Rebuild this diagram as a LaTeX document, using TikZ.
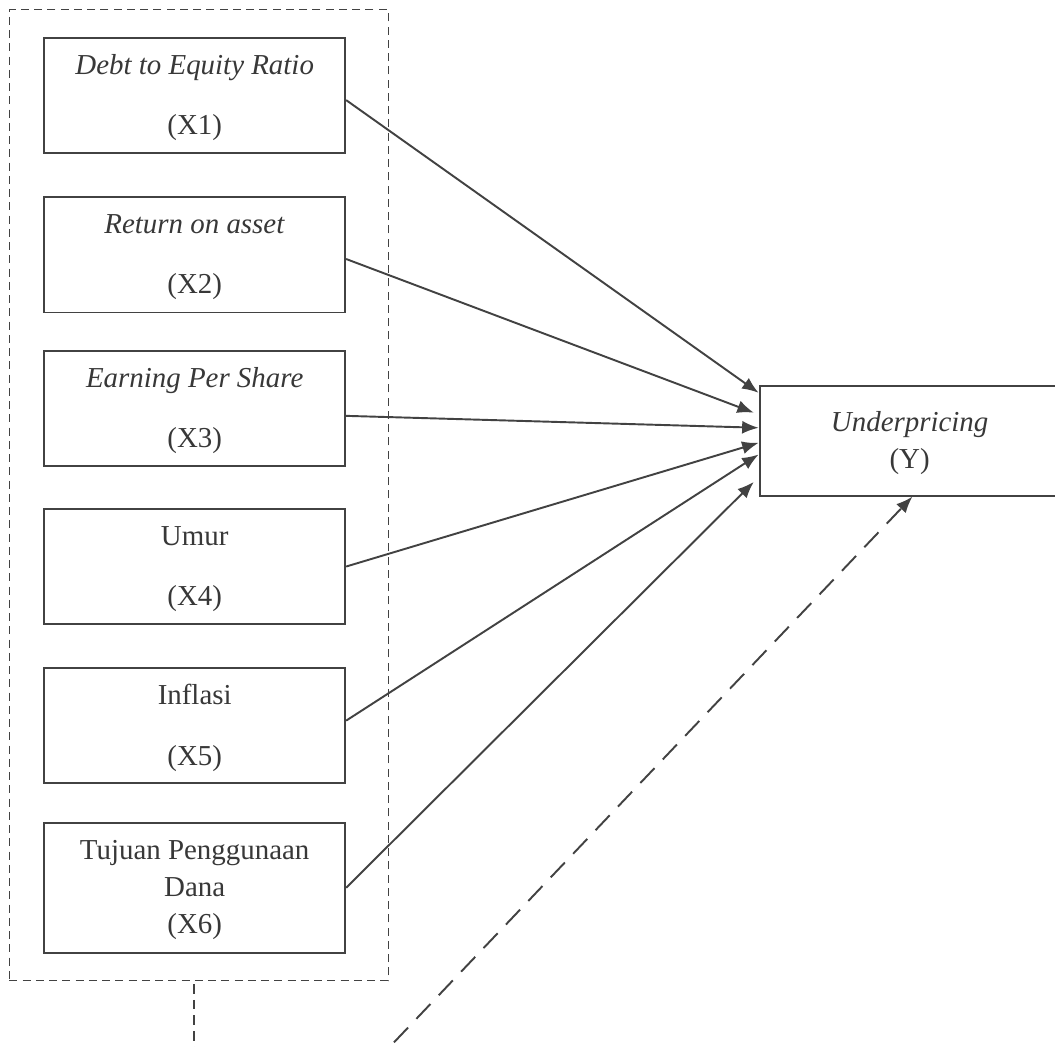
\documentclass[tikz,border=0pt]{standalone}
\usepackage{fontspec}
\setmainfont{Liberation Serif}
\usepackage{tikz}
\usetikzlibrary{arrows.meta,positioning,fit,calc}
\definecolor{rsInk}{HTML}{383838}
\definecolor{rsLine}{HTML}{424242}

\begin{document}
\begin{tikzpicture}[
  var/.style={draw=rsLine, line width=0.8pt, fill=white, align=center, text=rsInk, font=\fontsize{12pt}{15.5pt}\selectfont, minimum width=4.39cm, minimum height=1.68cm, inner sep=2pt, text depth=0.6pt},
  dep/.style={var, minimum width=4.38cm, minimum height=1.6cm},
  grp/.style={draw=rsLine, line width=0.45pt, dash pattern=on 3.3pt off 2.2pt, inner xsep=0.554cm, inner ysep=0.394cm},
  arr/.style={-{Latex[length=2.4mm,width=1.9mm]}, line width=0.8pt, color=rsLine},
  darr/.style={arr, dash pattern=on 8.5pt off 5pt}
]
  \useasboundingbox (0,0) rectangle (15.39,-15.26);

  \node[var] (x1) at (2.84,-1.39) {\textit{Debt to Equity Ratio}\\[9.5pt](X1)};
  \node[var, below=0.62cm of x1] (x2) {\textit{Return on asset}\\[9.5pt](X2)};
  \node[var, below=0.53cm of x2] (x3) {\textit{Earning Per Share}\\[9.5pt](X3)};
  \node[var, below=0.6cm of x3] (x4) {Umur\\[9.5pt](X4)};
  \node[var, below=0.61cm of x4] (x5) {Inflasi\\[9.5pt](X5)};
  \node[var, below=0.55cm of x5, minimum height=1.9cm] (x6) {Tujuan Penggunaan\\Dana\\(X6)};
  \node[dep] (y) at (13.27,-6.43) {\textit{Underpricing}\\(Y)};
  \node[grp, fit=(x1)(x6), xshift=0.06cm] (grp) {};

  \draw[arr] ([yshift=-0.07cm]x1.east) -- ([yshift=0.70cm]y.west);
  \draw[arr] ([yshift=-0.06cm]x2.east) -- ([xshift=-0.07cm,yshift=0.41cm]y.west);
  \draw[arr] ([yshift=-0.11cm]x3.east) -- ([yshift=0.19cm]y.west);
  \draw[arr] (x4.east) -- ([yshift=-0.03cm]y.west);
  \draw[arr] ([yshift=0.07cm]x5.east) -- ([yshift=-0.20cm]y.west);
  \draw[arr] (x6.east) -- ([xshift=-0.07cm,yshift=-0.60cm]y.west);

  % lines running off the page
  \path ([xshift=-0.07cm,yshift=-0.04cm]grp.south) coordinate (grptop) ++(0,-1.2) coordinate (grpfoot);
  \draw[rsLine, line width=0.45pt, dash pattern=on 4pt off 2.5pt] (grptop) -- (grpfoot);
  \coordinate (src) at (5.42,-15.55);
  \draw[darr] (src) -- ([xshift=0.04cm]y.south);
\end{tikzpicture}
\end{document}
